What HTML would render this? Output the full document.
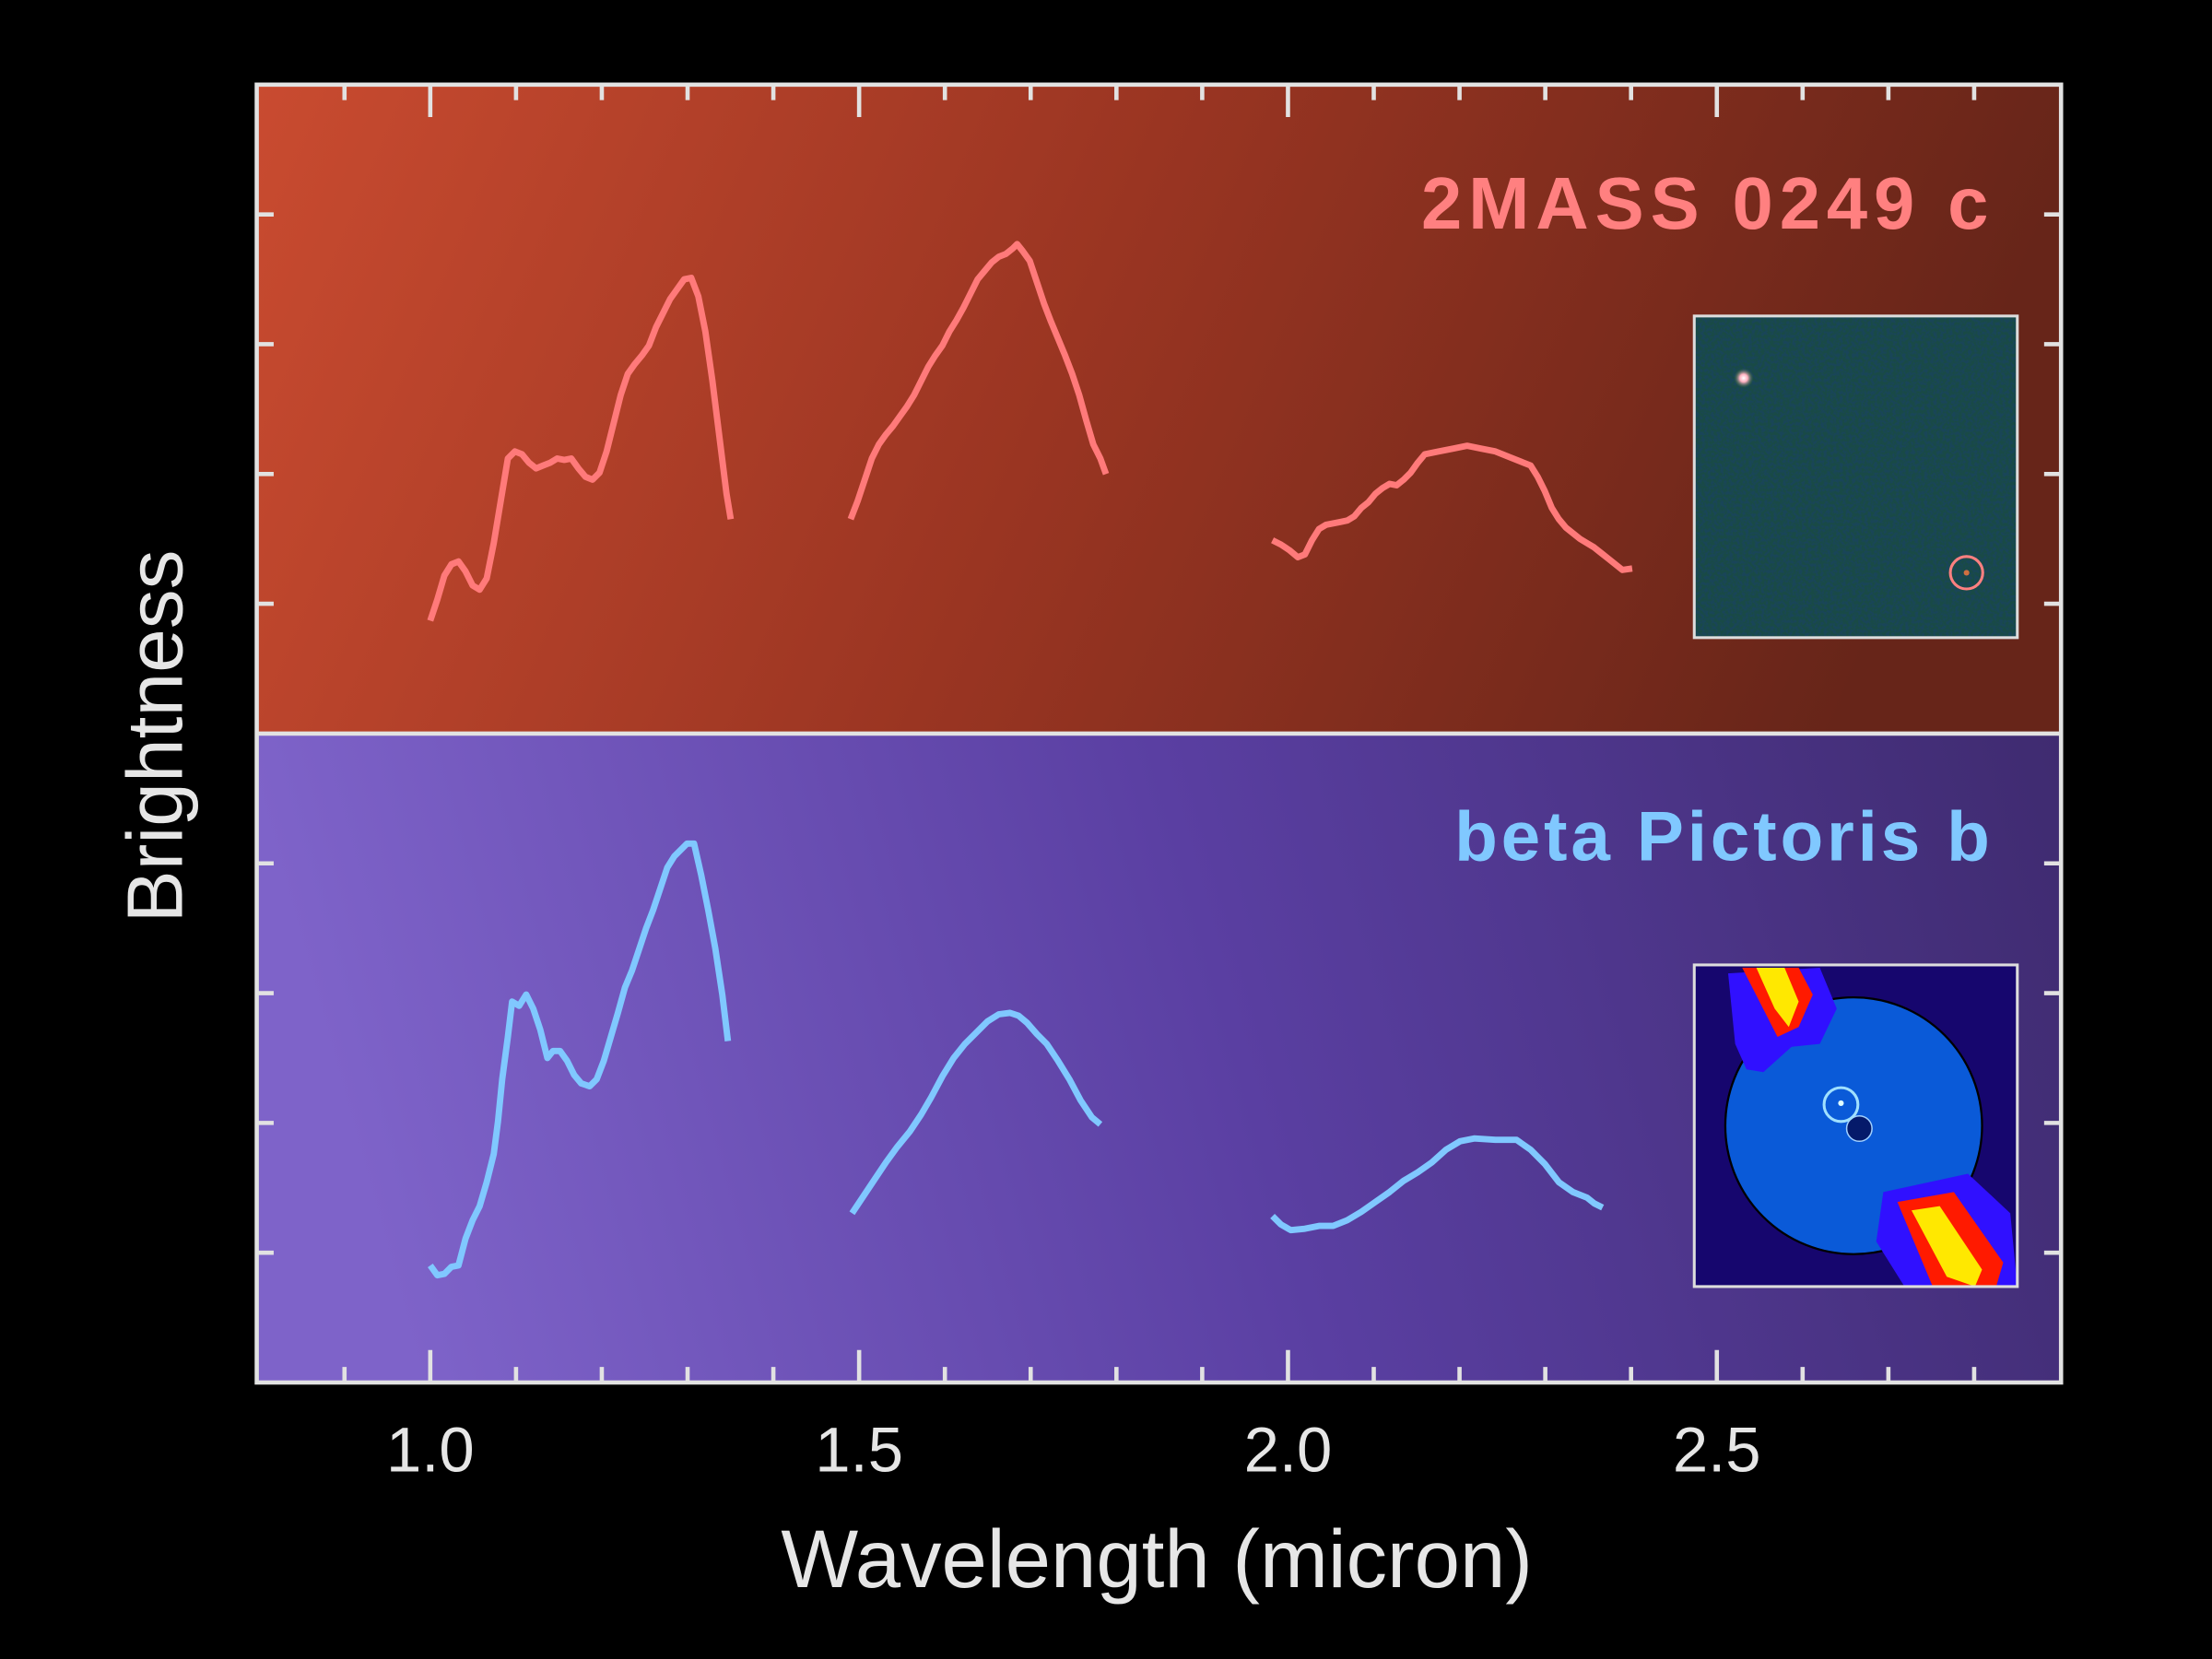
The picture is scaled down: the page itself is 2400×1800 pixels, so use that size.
<!DOCTYPE html>
<html><head><meta charset="utf-8"><style>html,body{margin:0;padding:0;background:#000}svg{display:block}</style></head>
<body>
<svg width="2400" height="1800" viewBox="0 0 1568 1176" xmlns="http://www.w3.org/2000/svg">
<defs>
<linearGradient id="gt" x1="0" y1="0" x2="1" y2="0.15">
<stop offset="0" stop-color="#c94b30"/><stop offset="0.5" stop-color="#9a3522"/><stop offset="1" stop-color="#672519"/></linearGradient>
<linearGradient id="gb" x1="0" y1="0.1" x2="1" y2="0">
<stop offset="0" stop-color="#7e63c9"/><stop offset="0.5" stop-color="#5a3fa2"/><stop offset="1" stop-color="#3f2b70"/></linearGradient>
<filter id="noise" x="0" y="0" width="100%" height="100%">
<feTurbulence type="fractalNoise" baseFrequency="0.45" numOctaves="2" seed="3"/>
<feColorMatrix type="matrix" values="0 0 0 0 0.01  0 0 0 0 0.06  0 0 0 0 0.1  0 0 0 -4 2.4"/>
</filter>
<radialGradient id="star"><stop offset="0" stop-color="#fff"/><stop offset="0.4" stop-color="#ffb0c0"/><stop offset="1" stop-color="#3a6a40" stop-opacity="0"/></radialGradient>
<clipPath id="c2"><rect x="1201" y="684" width="229" height="228"/></clipPath>
</defs>
<rect width="1568" height="1176" fill="#000"/>
<rect x="182" y="60" width="1279" height="460" fill="url(#gt)"/>
<rect x="182" y="520" width="1279" height="460" fill="url(#gb)"/>

<!-- insets -->
<rect x="1201" y="224" width="229" height="228" fill="#194a46"/>
<rect x="1201" y="224" width="229" height="228" filter="url(#noise)"/>
<circle cx="1236" cy="268" r="7" fill="url(#star)"/>
<circle cx="1394" cy="406" r="11.5" fill="none" stroke="#ff8080" stroke-width="2"/>
<circle cx="1394" cy="406" r="2" fill="#d07040"/>
<rect x="1201" y="224" width="229" height="228" fill="none" stroke="#ddd" stroke-width="2"/>

<g clip-path="url(#c2)">
<rect x="1201" y="684" width="229" height="228" fill="#16066e"/>
<circle cx="1314" cy="798" r="91" fill="#0a5ad8" stroke="#000" stroke-width="1.5"/>
<path d="M1225,690 L1290,686 L1302,715 L1290,740 L1270,742 L1250,760 L1238,758 L1230,740 Z" fill="#3010ff"/>
<path d="M1235,686 L1275,686 L1285,705 L1275,728 L1260,735 Z" fill="#ff1a00"/>
<path d="M1245,686 L1265,686 L1275,710 L1268,728 L1258,715 Z" fill="#ffe800"/>
<path d="M1335,845 L1395,832 L1425,860 L1430,912 L1350,912 L1330,880 Z" fill="#3010ff"/>
<path d="M1345,852 L1385,845 L1420,895 L1415,912 L1370,912 Z" fill="#ff1a00"/>
<path d="M1355,858 L1375,855 L1405,900 L1400,912 L1380,905 Z" fill="#ffe800"/>
<circle cx="1318" cy="800" r="9" fill="#051a6a" stroke="#a0d0ff" stroke-width="1"/>
<circle cx="1305" cy="783" r="12" fill="none" stroke="#a0e0ff" stroke-width="2"/>
<circle cx="1305" cy="782" r="2" fill="#e0ffff"/>
</g>
<rect x="1201" y="684" width="229" height="228" fill="none" stroke="#ddd" stroke-width="2"/>

<!-- curves -->
<g fill="none" stroke="#ff7a7a" stroke-width="4.5" stroke-linejoin="round" stroke-linecap="butt">
<polyline points="305,440 310,425 315,408 320,400 325,398 330,405 335,415 340,418 345,410 350,385 355,355 360,325 365,320 370,322 375,328 380,332 385,330 390,328 395,325 400,326 405,325 410,332 415,338 420,340 425,335 430,320 435,300 440,280 445,265 450,258 455,252 460,245 465,232 470,222 475,212 480,205 485,198 490,197 495,210 500,235 505,270 510,310 515,350 518,368"/>
<polyline points="603,368 608,355 613,340 618,325 623,315 628,308 633,302 638,295 643,288 648,280 653,270 658,260 663,252 668,245 673,235 678,227 683,218 688,208 693,198 698,192 703,186 708,182 713,180 718,176 721,173 725,178 730,185 735,200 740,215 745,228 750,240 755,252 760,265 765,280 770,298 775,315 780,325 784,336"/>
<polyline points="902,383 908,386 914,390 920,395 925,393 930,383 935,375 940,372 945,371 950,370 955,369 960,366 965,360 970,356 975,350 980,346 985,343 990,344 995,340 1000,335 1005,328 1010,322 1020,320 1030,318 1040,316 1050,318 1060,320 1070,324 1080,328 1085,330 1090,338 1095,348 1100,360 1105,368 1110,374 1115,378 1120,382 1125,385 1130,388 1135,392 1140,396 1145,400 1150,404 1157,403"/>
</g>
<g fill="none" stroke="#80c8ff" stroke-width="4.5" stroke-linejoin="round">
<polyline points="305,897 310,904 315,903 320,898 325,897 330,878 335,865 340,855 345,838 350,818 353,795 356,765 360,735 363,710 368,713 373,705 378,715 383,730 388,750 392,745 397,745 402,752 407,762 412,768 418,770 423,765 428,752 433,735 438,718 443,700 448,688 453,673 458,658 463,645 468,630 473,615 478,607 483,602 487,598 492,598 497,620 502,645 507,672 512,705 516,738"/>
<polyline points="604,860 612,848 620,836 628,824 636,813 645,802 653,790 660,778 668,763 676,750 684,740 692,732 700,724 708,719 716,718 722,720 728,725 735,733 742,740 750,752 758,765 766,780 774,792 780,797"/>
<polyline points="902,862 908,868 915,872 925,871 935,869 945,869 955,865 965,859 975,852 985,845 995,837 1005,831 1015,824 1025,815 1035,809 1045,807 1060,808 1075,808 1085,815 1095,825 1105,838 1115,845 1125,849 1130,853 1136,856"/>
</g>

<!-- frame & ticks -->
<g stroke="#e2e2e2" stroke-width="3" fill="none">
<rect x="182" y="60" width="1279" height="920"/>
<line x1="182" y1="520" x2="1461" y2="520"/>
<path d="M305,980v-23M609,980v-23M913,980v-23M1217,980v-23M305,60v23M609,60v23M913,60v23M1217,60v23
M244.2,980v-11M365.8,980v-11M426.6,980v-11M487.4,980v-11M548.2,980v-11M669.8,980v-11M730.6,980v-11M791.4,980v-11M852.2,980v-11M973.8,980v-11M1034.6,980v-11M1095.4,980v-11M1156.2,980v-11M1277.8,980v-11M1338.6,980v-11M1399.4,980v-11
M244.2,60v11M365.8,60v11M426.6,60v11M487.4,60v11M548.2,60v11M669.8,60v11M730.6,60v11M791.4,60v11M852.2,60v11M973.8,60v11M1034.6,60v11M1095.4,60v11M1156.2,60v11M1277.8,60v11M1338.6,60v11M1399.4,60v11
M182,152h12M182,244h12M182,336h12M182,428h12M182,612h12M182,704h12M182,796h12M182,888h12
M1461,152h-12M1461,244h-12M1461,336h-12M1461,428h-12M1461,612h-12M1461,704h-12M1461,796h-12M1461,888h-12"/>
</g>

<g font-family="Liberation Sans, sans-serif" fill="#e6e6e6">
<text x="1414" y="162" text-anchor="end" font-size="52" font-weight="bold" fill="#ff8080" letter-spacing="4.5">2MASS 0249 c</text>
<text x="1413" y="610" text-anchor="end" font-size="50" font-weight="bold" fill="#80c8ff" letter-spacing="2.5">beta Pictoris b</text>
<text x="305" y="1043" text-anchor="middle" font-size="45">1.0</text>
<text x="609" y="1043" text-anchor="middle" font-size="45">1.5</text>
<text x="913" y="1043" text-anchor="middle" font-size="45">2.0</text>
<text x="1217" y="1043" text-anchor="middle" font-size="45">2.5</text>
<text x="820" y="1125" text-anchor="middle" font-size="58">Wavelength (micron)</text>
<text transform="translate(129,522) rotate(-90)" text-anchor="middle" font-size="56">Brightness</text>
</g>
</svg>
</body></html>
